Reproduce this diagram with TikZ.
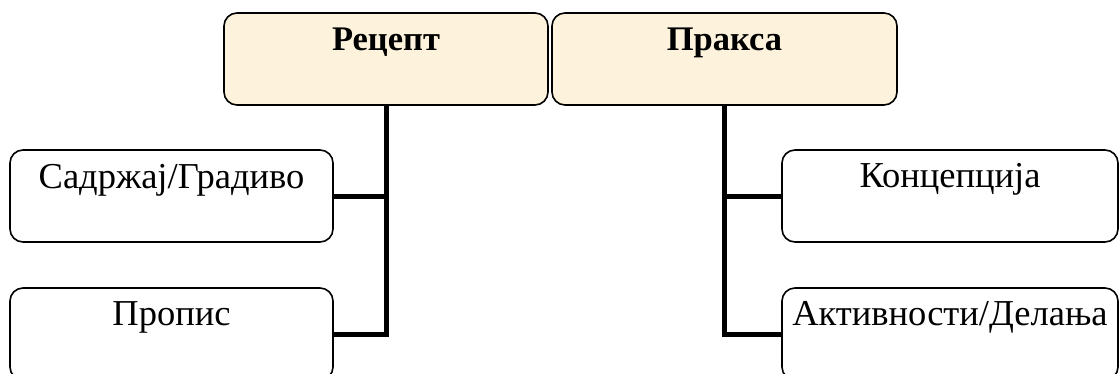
\documentclass[tikz,border=0pt]{standalone}
\usepackage{fontspec}
\setmainfont{Liberation Serif}
\definecolor{headfill}{RGB}{253,242,219}
\tikzset{
  box/.style={draw=black, line width=1.6pt, rounded corners=13pt,
    fill=white, inner sep=0pt, outer sep=0pt},
  headbox/.style={box, fill=headfill},
  boxtext/.style={anchor=base, inner sep=0pt, font=\fontsize{36.5}{44}\selectfont},
  headtext/.style={anchor=base, inner sep=0pt, font=\fontsize{34.5}{42}\selectfont\bfseries},
  conn/.style={draw=black, line width=5pt}
}
\begin{document}
\begin{tikzpicture}[x=1pt, y=-1pt]
  \useasboundingbox (0,0) rectangle (1119,373);
  \clip (0,0) rectangle (1119,373);

  % top boxes
  \node[headbox, minimum width=324pt, minimum height=92pt] (rec) at (386,59) {};
  \node[headbox, minimum width=345pt, minimum height=92pt] (prk) at (724.5,59) {};

  % child boxes
  \node[box, minimum width=323pt, minimum height=92pt] (sad) at (171.5,196) {};
  \node[box, minimum width=323pt, minimum height=92pt] (pro) at (171.5,334) {};
  \node[box, minimum width=336pt, minimum height=92pt] (kon) at (950,196) {};
  \node[box, minimum width=336pt, minimum height=92pt] (akt) at (950,334) {};

  % connectors
  \draw[conn] (rec.south) |- (sad.east);
  \draw[conn] (rec.south) |- (pro.east);
  \draw[conn] (prk.south) |- (kon.west);
  \draw[conn] (prk.south) |- (akt.west);

  % labels
  \node[headtext] (trec) at ([yshift=-37pt]rec.north) {Рецепт};
  \node[headtext] (tprk) at ([yshift=-37pt]prk.north) {Пракса};
  \node[boxtext] (tsad) at ([yshift=-38pt]sad.north) {Садржај/Градиво};
  \node[boxtext] (tpro) at ([yshift=-37pt]pro.north) {Пропис};
  \node[boxtext] (tkon) at ([yshift=-37pt]kon.north) {Концепција};
  \node[boxtext] (takt) at ([yshift=-37pt]akt.north) {Активности/Делања};
\end{tikzpicture}
\end{document}
